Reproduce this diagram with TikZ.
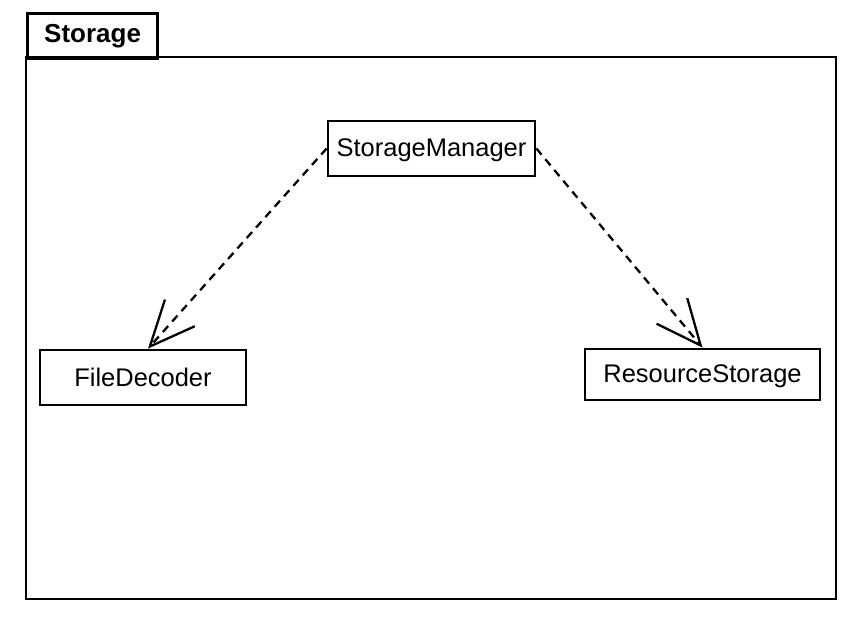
\documentclass[tikz,border=0pt]{standalone}
\usepackage{fontspec}
\setmainfont{Liberation Sans}
\usetikzlibrary{arrows.meta,positioning}

\tikzset{
  cls/.style={draw=black, line width=1.6pt, fill=white, inner sep=0pt,
              text depth=0.5pt, font=\fontsize{14.5pt}{17pt}\selectfont},
  dep/.style={line width=1.3pt, dash pattern=on 0.16cm off 0.12cm,
              -{Straight Barb[length=0.9cm,width=0.8cm,line width=1.3pt]}},
}

\begin{document}
\begin{tikzpicture}[x=0.02cm,y=-0.02cm]

\useasboundingbox (0,0) rectangle (857,619);

% package frame
\draw[line width=1.6pt] (26,57) rectangle (836,599);
\node[draw=black, line width=1.6pt, minimum width=2.6cm, minimum height=0.9cm,
      inner sep=0pt, anchor=north west] (tab) at (26,12) {};
\node[anchor=west, font=\bfseries\fontsize{14.8pt}{17pt}\selectfont] (pkg) at (38,36) {Storage};

\node[cls, minimum width=4.14cm, minimum height=1.1cm]  (sm) at (431.5,148.5) {StorageManager};
\node[cls, minimum width=4.12cm, minimum height=1.1cm]  (fd) at (143,377.5)   {FileDecoder};
\node[cls, minimum width=4.7cm,  minimum height=1.02cm] (rs) at (702.5,374.5) {ResourceStorage};

\draw[dep] (sm.west) -- ([xshift=0.1cm]fd.north);
\draw[dep] (sm.east) -- (rs.north);

\end{tikzpicture}
\end{document}
